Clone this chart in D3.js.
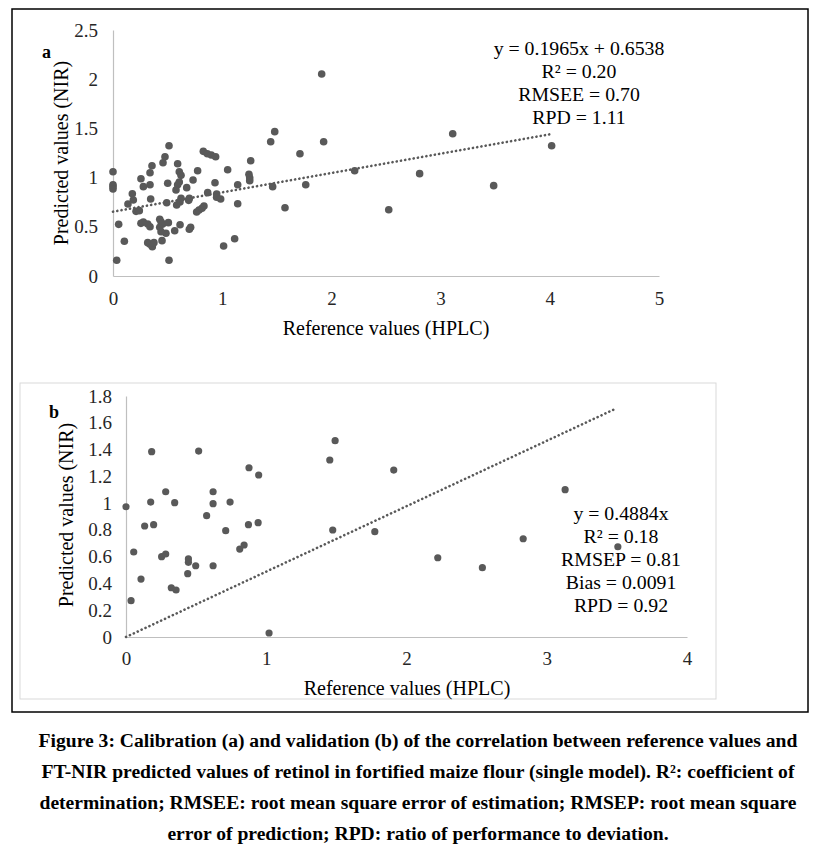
<!DOCTYPE html>
<html>
<head>
<meta charset="utf-8">
<script src="https://cdn.jsdelivr.net/npm/d3@7"></script>
<style>
  body { margin: 0; background: #fff; }
  text { font-family: "Liberation Serif", "Times New Roman", serif; fill: #000; }
  .tick text { font-size: 19px; fill: #262626; }
  .cap { font-size: 19.6px; font-weight: bold; }
</style>
</head>
<body>
<svg id="fig" width="819" height="859"></svg>
<script>
// calibration (a)
var calX = [1.911,1.481,1.444,1.929,1.712,0.513,
  0.827,0.864,0.900,0.940,
  0.476,0.458,0.357,0.339,0.256,
  0,0,0,0,
  0.592,0.607,0.623,0.607,0.592,0.577,
  0.501,0.339,0.278,0.775,0.733,0.675,0.934,
  1.050,1.261,1.245,1.252,1.252,1.142,1.462,1.765,
  2.213,2.525,1.575,1.142,1.114,1.013,
  0.867,0.949,0.949,0.986,
  0.699,0.693,0.623,0.613,0.583,
  0.492,0.345,0.177,0.186,0.137,0.211,0.241,
  0.052,0.104,0.034,0.513,
  0.256,0.278,0.339,0.318,
  0.428,0.440,0.455,0.507,0.485,0.440,0.428,0.614,0.565,
  0.711,0.699,0.766,0.788,0.815,0.833,
  0.318,0.339,0.360,0.375,0.449,
  3.111,4.017,2.808,3.486];
var calY = [2.053,1.467,1.365,1.365,1.243,1.324,
  1.267,1.243,1.230,1.212,
  1.212,1.151,1.121,1.050,0.989,
  1.060,0.928,0.908,0.884,
  1.141,1.060,1.023,0.955,0.928,0.874,
  0.942,0.928,0.908,1.070,0.976,0.898,0.948,
  1.080,1.172,1.033,0.999,0.969,0.928,0.908,0.928,
  1.070,0.674,0.694,0.735,0.379,0.305,
  0.847,0.833,0.800,0.783,
  0.790,0.769,0.790,0.752,0.722,
  0.745,0.783,0.836,0.772,0.732,0.657,0.664,
  0.525,0.353,0.160,0.160,
  0.535,0.549,0.501,0.528,
  0.576,0.552,0.528,0.542,0.434,0.450,0.495,0.521,0.460,
  0.495,0.475,0.650,0.671,0.688,0.711,
  0.339,0.322,0.298,0.339,0.359,
  1.446,1.324,1.040,0.918];
var calSlope = 0.1965, calIntercept = 0.6538, calLineEnd = 4.02;
var calNotes = ["y = 0.1965x + 0.6538", "R² = 0.20", "RMSEE = 0.70", "RPD = 1.11"];
var calXTicks = [0,1,2,3,4,5];
var calYTicks = [0,0.5,1,1.5,2,2.5];

// validation (b)
var valX = [0,0.036,0.055,0.107,0.133,0.197,0.183,0.176,0.254,0.283,0.283,0.347,
  0.323,0.357,0.445,0.445,0.440,0.497,0.518,0.621,0.621,0.575,0.621,0.711,0.742,
  0.811,0.842,0.873,0.877,0.946,0.942,1.020,1.453,1.491,1.474,1.774,1.909,
  3.131,2.832,2.223,2.541,3.507];
var valY = [0.973,0.271,0.635,0.433,0.829,0.839,1.384,1.008,0.600,0.620,1.085,1.003,
  0.368,0.351,0.583,0.558,0.473,0.532,1.389,1.085,0.996,0.906,0.532,0.794,1.008,
  0.657,0.687,0.839,1.264,1.210,0.854,0.030,1.322,1.466,0.799,0.787,1.247,
  1.100,0.734,0.592,0.518,0.674];
var valSlope = 0.4884, valLineEnd = 3.5;
var valNotes = ["y = 0.4884x", "R² = 0.18", "RMSEP = 0.81", "Bias = 0.0091", "RPD = 0.92"];
var valXTicks = [0,1,2,3,4];
var valYTicks = [0,0.2,0.4,0.6,0.8,1,1.2,1.4,1.6,1.8];

var caption = [
  "Figure 3: Calibration (a) and validation (b) of the correlation between reference values and",
  "FT-NIR predicted values of retinol in fortified maize flour (single model). R²: coefficient of",
  "determination; RMSEE: root mean square error of estimation; RMSEP: root mean square",
  "error of prediction; RPD: ratio of performance to deviation."
];

var svg = d3.select("#fig");
var DOT = "#595959", AXIS = "#bfbfbf";

// frames
svg.append("rect").attr("x", 12).attr("y", 9).attr("width", 796).attr("height", 703)
  .attr("fill", "none").attr("stroke", "#000").attr("stroke-width", 1.5);
svg.append("rect").attr("x", 20).attr("y", 383).attr("width", 696).attr("height", 316)
  .attr("fill", "none").attr("stroke", "#d9d9d9").attr("stroke-width", 1);

//////////////////////////////////
function drawPanel(cfg) {
  var x = d3.scaleLinear().domain(cfg.xDomain).range(cfg.xRange);
  var y = d3.scaleLinear().domain(cfg.yDomain).range(cfg.yRange);
  var g = svg.append("g");

  var xa = g.append("g").attr("transform", "translate(0," + cfg.yRange[0] + ")")
    .call(d3.axisBottom(x).tickValues(cfg.xTicks).tickSize(0).tickPadding(cfg.xPad).tickFormat(d3.format("d")));
  var ya = g.append("g").attr("transform", "translate(" + cfg.xRange[0] + ",0)")
    .call(d3.axisLeft(y).tickValues(cfg.yTicks).tickSize(0).tickPadding(cfg.yPad).tickFormat(function(d) { return String(d); }));
  [xa, ya].forEach(function(a) {
    a.select(".domain").attr("stroke", AXIS).attr("stroke-width", 1.2);
    a.selectAll(".tick text").attr("font-family", null).attr("font-size", null);
  });

  // trendline
  g.append("line")
    .attr("x1", x(0)).attr("y1", y(cfg.intercept))
    .attr("x2", x(cfg.lineEnd)).attr("y2", y(cfg.intercept + cfg.slope * cfg.lineEnd))
    .attr("stroke", DOT).attr("stroke-width", 2.6)
    .attr("stroke-linecap", "round").attr("stroke-dasharray", "0.1,4.2");

  g.selectAll("circle.pt")
    .data(d3.range(cfg.xs.length))
  .enter()
    .append("circle")
    .attr("class", "pt")
    .attr("cx", function(i) { return x(cfg.xs[i]); })
    .attr("cy", function(i) { return y(cfg.ys[i]); })
    .attr("r", cfg.r)
    .attr("fill", DOT);

  g.append("text").text(cfg.label)
    .attr("x", cfg.labelPos[0]).attr("y", cfg.labelPos[1])
    .attr("font-weight", "bold").attr("font-size", 18);

  g.append("text").text("Predicted values (NIR)")
    .attr("transform", "translate(" + cfg.yTitle[0] + "," + cfg.yTitle[1] + ") rotate(-90)")
    .attr("text-anchor", "middle").attr("font-size", 20);
  g.append("text").text("Reference values (HPLC)")
    .attr("x", cfg.xTitle[0]).attr("y", cfg.xTitle[1])
    .attr("text-anchor", "middle").attr("font-size", 20);

  g.selectAll("text.note")
    .data(cfg.notes)
  .enter()
    .append("text")
    .attr("class", "note")
    .attr("x", cfg.notePos[0])
    .attr("y", function(d, i) { return cfg.notePos[1] + i * 23; })
    .attr("text-anchor", "middle").attr("font-size", 19.8)
    .text(function(d) { return d; });
}

drawPanel({
  xs: calX, ys: calY, xDomain: [0,5], xRange: [113,659], yDomain: [0,2.5], yRange: [276,30],
  xTicks: calXTicks, yTicks: calYTicks,
  xPad: 16, yPad: 15, slope: calSlope, intercept: calIntercept, lineEnd: calLineEnd, r: 3.8,
  label: "a", labelPos: [42, 58], yTitle: [68, 153], xTitle: [386, 335],
  notes: calNotes, notePos: [579, 55]
});

drawPanel({
  xs: valX, ys: valY, xDomain: [0,4], xRange: [126,687], yDomain: [0,1.8], yRange: [637,396],
  xTicks: valXTicks, yTicks: valYTicks,
  xPad: 15, yPad: 14, slope: valSlope, intercept: 0, lineEnd: valLineEnd, r: 3.6,
  label: "b", labelPos: [49, 418], yTitle: [73, 515], xTitle: [407, 695],
  notes: valNotes, notePos: [621, 520]
});

// caption
svg.selectAll("text.cap")
  .data(caption)
.enter()
  .append("text")
  .attr("class", "cap")
  .attr("x", 418)
  .attr("y", function(d, i) { return 747 + i * 31; })
  .attr("text-anchor", "middle")
  .text(function(d) { return d; });
</script>
</body>
</html>
